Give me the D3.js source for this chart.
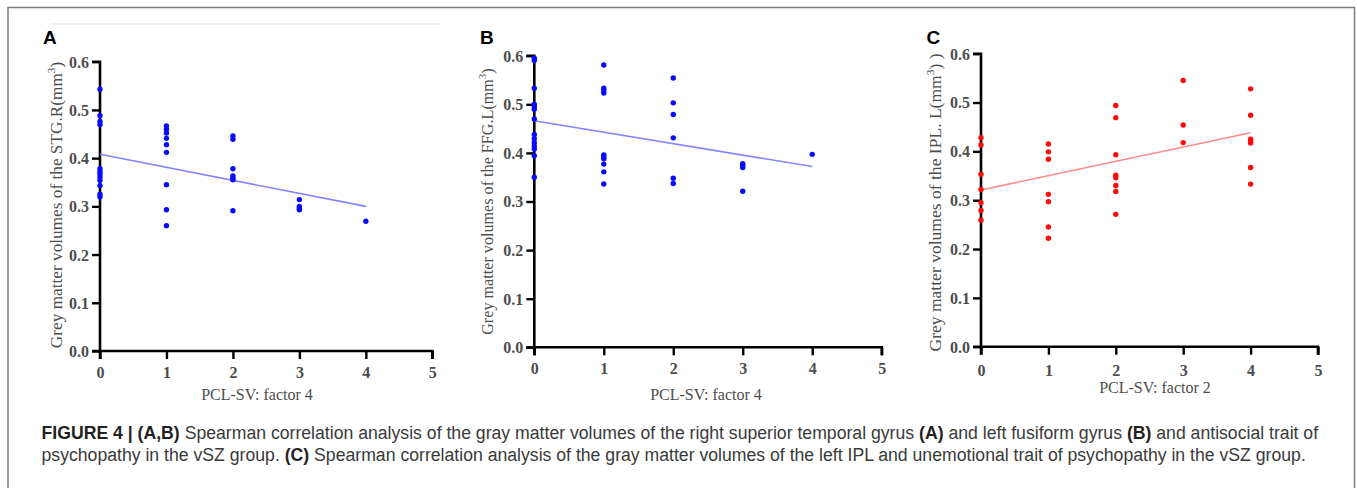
<!DOCTYPE html>
<html><head><meta charset="utf-8">
<script src="https://cdn.jsdelivr.net/npm/d3@7"></script>
<style>html,body{margin:0;padding:0;background:#fff;}svg{display:block;}</style>
</head><body>
<script>
// ---------- data ----------
const xTicks = [0, 1, 2, 3, 4, 5];
const yTicks = [0.0, 0.1, 0.2, 0.3, 0.4, 0.5, 0.6];
const fitX = [0, 4];

// Panel A: STG.R vs PCL-SV factor 4
const stgX = [0,0,0,0,0,0,0,0,0,0,0,0, 1,1,1,1,1,1,1,1,1, 2,2,2,2,2,2,2, 3,3,3,3, 4];
const stgY = [0.543,0.488,0.476,0.470,0.378,0.372,0.367,0.361,0.354,0.343,0.325,0.320,
              0.467,0.460,0.452,0.441,0.428,0.412,0.345,0.293,0.260,
              0.446,0.439,0.378,0.363,0.358,0.355,0.291,
              0.314,0.300,0.296,0.293,
              0.269];
const stgFit = [0.408, 0.300];

// Panel B: FFG.L vs PCL-SV factor 4
const ffgX = [0,0,0,0,0,0,0,0,0,0,0,0,0,0, 1,1,1,1,1,1,1,1,1,1, 2,2,2,2,2,2, 3,3,3,3, 4];
const ffgY = [0.595,0.590,0.533,0.500,0.495,0.490,0.470,0.438,0.429,0.421,0.414,0.408,0.394,0.350,
              0.581,0.533,0.528,0.523,0.396,0.392,0.388,0.377,0.361,0.336,
              0.554,0.503,0.479,0.431,0.348,0.337,
              0.378,0.374,0.370,0.321,
              0.397];
const ffgFit = [0.466, 0.372];

// Panel C: IPL.L vs PCL-SV factor 2
const iplX = [0,0,0,0,0,0,0, 1,1,1,1,1,1,1, 2,2,2,2,2,2,2,2, 3,3,3, 4,4,4,4,4,4,4];
const iplY = [0.428,0.413,0.353,0.322,0.295,0.279,0.259,
              0.415,0.399,0.384,0.312,0.297,0.245,0.222,
              0.494,0.469,0.393,0.351,0.346,0.330,0.318,0.271,
              0.545,0.454,0.418,
              0.528,0.474,0.425,0.421,0.417,0.367,0.333];
const iplFit = [0.321, 0.438];

const panelLetters = ["A", "B", "C"];
const yTitles = ["Grey matter volumes of the STG.R(mm", "Grey matter volumes of the FFG.L(mm", "Grey matter volumes of the IPL. L(mm"];
const xTitles = ["PCL-SV: factor 4", "PCL-SV: factor 4", "PCL-SV: factor 2"];

// ---------- layout ----------
const W = 1357, H = 488;
const svg = d3.select("body").append("svg").attr("width", W).attr("height", H);

svg.append("rect").attr("x", 8).attr("y", 7.5).attr("width", 1346.5).attr("height", 520)
  .attr("fill", "none").attr("stroke", "#7a7a7a").attr("stroke-width", 1.5);
svg.append("line").attr("x1", 50).attr("x2", 440).attr("y1", 24).attr("y2", 24)
  .attr("stroke", "#f1f1f1").attr("stroke-width", 2);

const panels = [
  {xs: stgX, ys: stgY, fit: stgFit, color: "#0a0aff", fitColor: "#8484ff",
   x0: 100, x5: 432.3, y0: 351, y6: 61.7, letterX: 43, titleX: 61.5, titleSpan: [61.7, 348.3],
   xTitleY: 400, xTitleCx: 257, tickLabelY: 378},
  {xs: ffgX, ys: ffgY, fit: ffgFit, color: "#0a0aff", fitColor: "#8484ff",
   x0: 534.3, x5: 881.7, y0: 347.3, y6: 55.7, letterX: 480, titleX: 493.3, titleSpan: [68.3, 335],
   xTitleY: 400, xTitleCx: 706, tickLabelY: 374},
  {xs: iplX, ys: iplY, fit: iplFit, color: "#ff0a0a", fitColor: "#ff8a8a",
   x0: 981, x5: 1318, y0: 346.7, y6: 53.7, letterX: 926.5, titleX: 940.7, titleSpan: [53.3, 351.7],
   xTitleY: 393, xTitleCx: 1155, tickLabelY: 376.5}
];

const serif = "'Liberation Serif', 'Times New Roman', serif";
const sans = "'Liberation Sans', Arial, Helvetica, sans-serif";

panels.forEach((p, i) => {
  const x = d3.scaleLinear().domain([0, 5]).range([p.x0, p.x5]);
  const y = d3.scaleLinear().domain([0, 0.6]).range([p.y0, p.y6]);
  const g = svg.append("g");

  g.append("text").attr("x", p.letterX).attr("y", 43.5).text(panelLetters[i])
    .attr("font-family", sans).attr("font-weight", "bold").attr("font-size", 19).attr("fill", "#000");

  const yAxis = d3.axisLeft(y).tickValues(yTicks).tickFormat(d3.format(".1f")).tickSize(8).tickPadding(3);
  const xAxis = d3.axisBottom(x).tickValues(xTicks).tickFormat(d3.format("d")).tickSize(8).tickPadding(4);
  const gy = g.append("g").attr("transform", `translate(${p.x0},0)`).call(yAxis);
  const gx = g.append("g").attr("transform", `translate(0,${p.y0})`).call(xAxis);
  [gx, gy].forEach(ax => {
    ax.select(".domain").attr("stroke", "#000").attr("stroke-width", 2.6);
    ax.selectAll(".tick line").attr("stroke", "#000").attr("stroke-width", 2.4);
    ax.selectAll(".tick text").attr("font-family", serif).attr("font-size", 16)
      .attr("font-weight", "bold").attr("fill", "#4d4d4d");
  });
  gx.select(".domain").attr("d", `M${p.x0},8V0H${p.x5}V8`);
  gy.select(".domain").attr("d", `M-8,${p.y6}H0V${p.y0}H-8`);
  gx.selectAll(".tick text").attr("dy", null).attr("y", p.tickLabelY - p.y0);
  gy.selectAll(".tick text").attr("dy", "0.34em");

  g.append("line")
    .attr("x1", x(fitX[0])).attr("y1", y(p.fit[0]))
    .attr("x2", x(fitX[1])).attr("y2", y(p.fit[1]))
    .attr("stroke", p.fitColor).attr("stroke-width", 1.6);

  g.selectAll("circle.pt").data(p.xs.map((v, k) => [v, p.ys[k]])).enter()
    .append("circle").attr("class", "pt")
    .attr("cx", d => x(d[0])).attr("cy", d => y(d[1])).attr("r", 2.7)
    .attr("fill", p.color);

  const cy = (p.titleSpan[0] + p.titleSpan[1]) / 2;
  const yt = g.append("text")
    .attr("transform", `translate(${p.titleX},${cy}) rotate(-90)`)
    .attr("text-anchor", "middle")
    .attr("font-family", serif).attr("font-size", 17).attr("fill", "#4d4d4d");
  yt.append("tspan").text(yTitles[i]);
  yt.append("tspan").attr("font-size", 11).attr("dy", -7).text("3");
  yt.append("tspan").attr("dy", 7).text(i === 2 ? ") )" : ")");
  const len = yt.node().getComputedTextLength();
  const target = p.titleSpan[1] - p.titleSpan[0];
  yt.attr("font-size", 17 * target / len);
  yt.select("tspan:nth-child(2)").attr("font-size", 11 * target / len);

  g.append("text").attr("x", p.xTitleCx).attr("y", p.xTitleY).attr("text-anchor", "middle")
    .attr("font-family", serif).attr("font-size", 16).attr("fill", "#4d4d4d").text(xTitles[i]);
});

// ---------- caption ----------
const cap1 = [
  ["FIGURE 4 | ", true], ["(A,B)", true],
  [" Spearman correlation analysis of the gray matter volumes of the right superior temporal gyrus ", false],
  ["(A)", true], [" and left fusiform gyrus ", false], ["(B)", true], [" and antisocial trait of", false]
];
const cap2 = [
  ["psychopathy in the vSZ group. ", false], ["(C)", true],
  [" Spearman correlation analysis of the gray matter volumes of the left IPL and unemotional trait of psychopathy in the vSZ group.", false]
];
const capX = 41.5, capEnd = 1319;
function caption(parts, yBase) {
  const t = svg.append("text").attr("x", capX).attr("y", yBase)
    .attr("font-family", sans).attr("font-size", 16).attr("fill", "#3a3a3a");
  parts.forEach(([s, b]) => {
    t.append("tspan").text(s).attr("font-weight", b ? "bold" : "normal").attr("fill", b ? "#222" : "#3a3a3a");
  });
  return t;
}
const c1 = caption(cap1, 439);
const c2 = caption(cap2, 461);
const fs = 16 * (capEnd - capX) / c1.node().getComputedTextLength();
c1.attr("font-size", fs);
c2.attr("font-size", fs);
</script>
</body></html>
